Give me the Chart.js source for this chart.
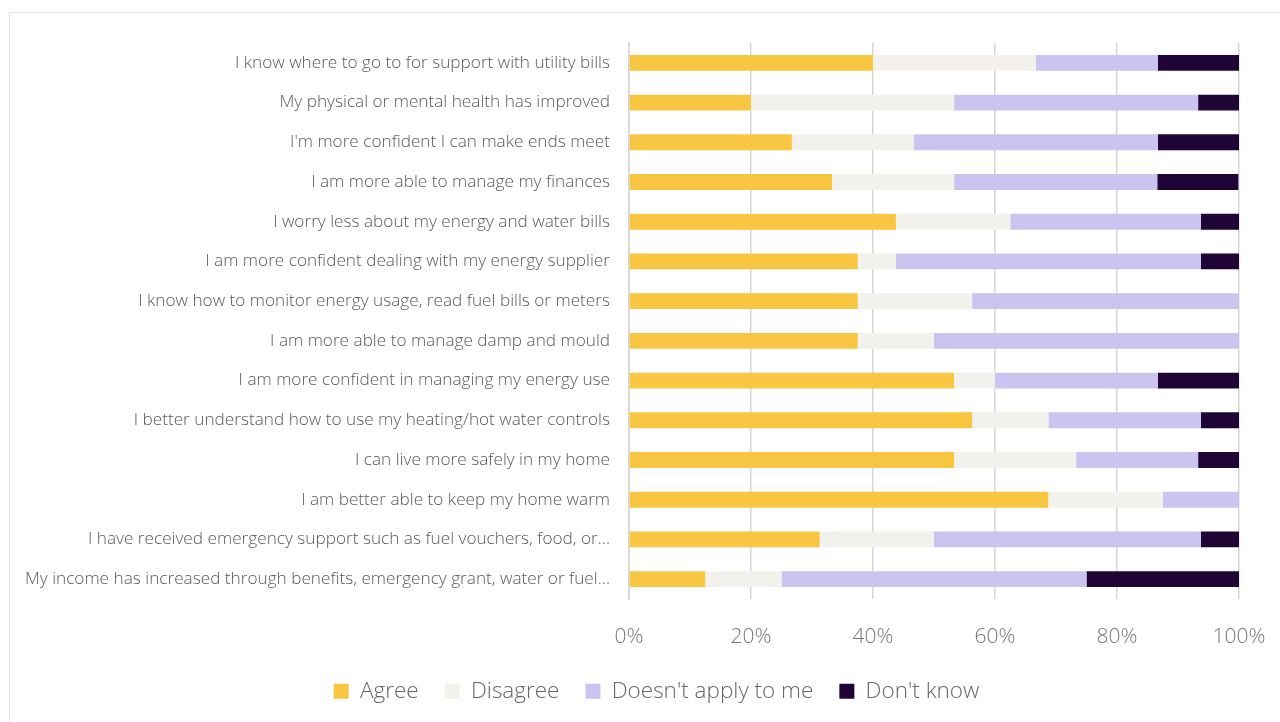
<!DOCTYPE html>
<html>
<head>
<meta charset="utf-8">
<script src="https://cdn.jsdelivr.net/npm/chart.js@4"></script>
<style>
  html, body { margin: 0; padding: 0; background: #fff; }
  #wrap { position: relative; width: 1280px; height: 722px; }
  #frame { position: absolute; left: 9px; top: 12px; right: -2px; bottom: -2px;
           border-left: 1px solid #e3e3e3; border-top: 1px solid #e3e3e3; }
  #graficoBarras { position: absolute; left: 0; top: 0; }
</style>
</head>
<body>
<div id="wrap">
  <div id="frame"></div>
  <canvas id="graficoBarras" width="1280" height="722"></canvas>
</div>
<script>
const categorias = [
  'I know where to go to for support with utility bills',
  'My physical or mental health has improved',
  "I'm more confident I can make ends meet",
  'I am more able to manage my finances',
  'I worry less about my energy and water bills',
  'I am more confident dealing with my energy supplier',
  'I know how to monitor energy usage, read fuel bills or meters',
  'I am more able to manage damp and mould',
  'I am more confident in managing my energy use',
  'I better understand how to use my heating/hot water controls',
  'I can live more safely in my home',
  'I am better able to keep my home warm',
  'I have received emergency support such as fuel vouchers, food, or\u2026',
  'My income has increased through benefits, emergency grant, water or fuel\u2026'
];

const agree      = [40, 20, 26.7, 33.3, 43.75, 37.5, 37.5, 37.5, 53.3, 56.25, 53.3, 68.75, 31.25, 12.5];
const disagree   = [26.7, 33.3, 20, 20, 18.75, 6.25, 18.75, 12.5, 6.7, 12.5, 20, 18.75, 18.75, 12.5];
const naoAplica  = [20, 40, 40, 33.3, 31.25, 50, 43.75, 50, 26.7, 25, 20, 12.5, 43.75, 50];
const naoSabe    = [13.3, 6.7, 13.3, 13.3, 6.25, 6.25, 0, 0, 13.3, 6.25, 6.7, 0, 6.25, 25];

const ticksX = [0, 20, 40, 60, 80, 100];

const fonte = '"Open Sans", "Noto Sans", sans-serif';

// legend: fixed height so its wide item padding does not squeeze the bars,
// and nudged right like in the original
const ajusteLegenda = {
  id: 'ajusteLegenda',
  afterInit(chart) {
    const fitOriginal = chart.legend.fit;
    chart.legend.fit = function() {
      fitOriginal.call(this);
      this.height = 68;
    };
  },
  afterLayout(chart) {
    chart.legend.left += 37;
    chart.legend.right += 37;
  }
};

const ctx = document.getElementById('graficoBarras').getContext('2d');
new Chart(ctx, {
  type: 'bar',
  data: {
    labels: categorias,
    datasets: [
      { label: 'Agree', data: agree, backgroundColor: '#F8C640' },
      { label: 'Disagree', data: disagree, backgroundColor: '#F3F1EC' },
      { label: "Doesn't apply to me", data: naoAplica, backgroundColor: '#CBC4F1' },
      { label: "Don't know", data: naoSabe, backgroundColor: '#1E0535' }
    ]
  },
  plugins: [ajusteLegenda],
  options: {
    indexAxis: 'y',
    responsive: false,
    animation: false,
    layout: { padding: { top: 43, right: 41, left: 0, bottom: 0 } },
    datasets: { bar: { categoryPercentage: 1, barPercentage: 0.4 } },
    scales: {
      x: {
        stacked: true,
        min: 0,
        max: 100,
        afterBuildTicks: function(scale) {
          scale.ticks = ticksX.map(v => ({ value: v }));
        },
        afterFit: function(scale) {
          scale.height = 55;
          scale.paddingRight = 0;
          scale.paddingLeft = 0;
        },
        grid: { color: '#d6d6d6', lineWidth: 1.5, drawTicks: false },
        border: { display: false },
        ticks: {
          padding: 25,
          color: '#777',
          font: { family: fonte, size: 21, weight: 300 },
          callback: v => v + '%'
        }
      },
      y: {
        stacked: true,
        afterFit: function(scale) { scale.width = 629; },
        grid: { display: false, drawTicks: false },
        border: { display: true, color: '#d6d6d6', width: 1.5 },
        ticks: {
          padding: 19,
          color: '#595959',
          font: { family: fonte, size: 17.2, weight: 300 }
        }
      }
    },
    plugins: {
      legend: {
        position: 'bottom',
        labels: {
          boxWidth: 15,
          boxHeight: 15,
          padding: 26,
          color: '#666',
          font: { family: fonte, size: 22.5, weight: 300 }
        }
      },
      tooltip: { enabled: false }
    }
  }
});
</script>
</body>
</html>
